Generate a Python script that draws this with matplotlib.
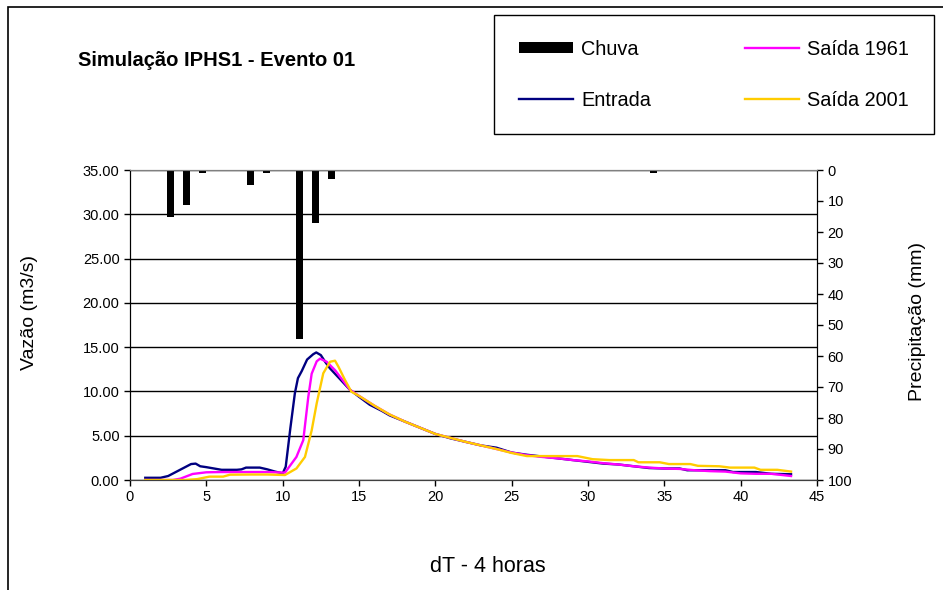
import matplotlib
matplotlib.use("Agg")
import matplotlib.pyplot as plt
from matplotlib.patches import Rectangle

plt.rcParams['font.family'] = ['Liberation Sans', 'DejaVu Sans']

# chuva (mm) por intervalo
chuva_x = [2.65, 3.7, 4.75, 7.9, 8.95, 11.1, 12.15, 13.2, 34.3]
chuva_mm = [15.3, 11.3, 1.0, 4.8, 1.0, 54.5, 17.2, 2.9, 1.0]

# hidrograma de entrada
ent_x = [1, 2, 2.5, 3, 3.5, 4, 4.3, 4.6, 5, 5.5, 6, 7, 7.3, 7.6, 8.5, 9, 9.5, 10,
         10.2, 10.5, 10.8, 11.0, 11.25, 11.6, 12.0, 12.2, 12.5, 12.8, 13.1, 14.4,
         15.0, 15.7, 16.5, 17, 18, 19, 20, 21, 22, 23, 24, 25, 26, 27, 28, 29, 30,
         31, 32, 33, 34, 35, 36, 36.5, 38, 39, 39.5, 41, 42, 43.3]
ent_q = [0.25, 0.25, 0.45, 0.9, 1.35, 1.8, 1.85, 1.55, 1.45, 1.3, 1.15, 1.15, 1.2,
         1.4, 1.4, 1.2, 0.95, 0.75, 1.5, 5.8, 9.8, 11.5, 12.3, 13.6, 14.2, 14.4,
         14.1, 13.3, 12.6, 10.2, 9.4, 8.5, 7.8, 7.3, 6.6, 5.9, 5.2, 4.7, 4.3, 3.9,
         3.65, 3.1, 2.85, 2.65, 2.45, 2.25, 2.05, 1.85, 1.75, 1.55, 1.35, 1.3, 1.3,
         1.1, 1.1, 1.1, 0.9, 0.9, 0.7, 0.65]

# saida 1961
s61_x = [1, 2.8, 3.3, 4.1, 5.0, 6, 7, 8, 9, 10.15, 10.9, 11.35, 11.68, 11.9, 12.23,
         12.45, 12.88, 13.43, 14.4, 15, 16, 17, 18, 19, 20, 21, 22, 23, 24, 25, 26,
         27, 28, 29, 30, 31, 32, 33, 34, 35, 36, 37, 38, 39, 40, 41, 42, 43.3]
s61_q = [0.0, 0.0, 0.15, 0.68, 0.87, 0.9, 0.9, 0.9, 0.9, 0.83, 2.6, 4.5, 9.4, 12.0,
         13.4, 13.7, 13.35, 12.4, 10.2, 9.5, 8.4, 7.4, 6.6, 5.9, 5.2, 4.75, 4.3, 3.9,
         3.5, 3.1, 2.8, 2.6, 2.45, 2.25, 2.1, 1.9, 1.75, 1.55, 1.4, 1.3, 1.25, 1.1,
         1.0, 0.95, 0.75, 0.7, 0.7, 0.45]

# saida 2001
s01_x = [1, 3.6, 4.4, 5.2, 6.1, 6.55, 8, 9, 10.15, 10.9, 11.46, 11.9, 12.23, 12.66,
         13.1, 13.43, 13.65, 14.08, 14.5, 15, 16, 17, 18, 19, 20, 21, 22, 23, 24, 25,
         26, 29.3, 30.3, 31.4, 33, 33.3, 34.7, 35.3, 36.7, 37.2, 38.6, 39.3, 40.9,
         41.3, 42.4, 43.3]
s01_q = [0.0, 0.0, 0.1, 0.38, 0.38, 0.6, 0.62, 0.62, 0.56, 1.3, 2.6, 5.6, 8.66, 12.05,
         13.35, 13.47, 12.8, 11.3, 9.97, 9.5, 8.4, 7.4, 6.6, 5.9, 5.2, 4.75, 4.3, 3.9,
         3.5, 3.05, 2.7, 2.7, 2.35, 2.25, 2.25, 2.0, 2.0, 1.8, 1.8, 1.6, 1.55, 1.4,
         1.4, 1.15, 1.15, 0.95]

W, H = 943, 590
fig = plt.figure(figsize=(W / 100, H / 100), dpi=100)
ax = fig.add_axes([130 / W, 1 - 480 / H, (817 - 130) / W, (480 - 170) / H])
ax2 = ax.twinx()

# moldura do grafico
fig.add_artist(Rectangle((8 / W, -0.2), 1.2, 1.2 - 7 / H, transform=fig.transFigure,
                         fill=False, edgecolor='black', linewidth=1.2))

l1, = ax.plot(ent_x, ent_q, color='#000080', lw=1.7, label='Entrada')
l2, = ax.plot(s61_x, s61_q, color='#FF00FF', lw=1.7, label='Saída 1961')
l3, = ax.plot(s01_x, s01_q, color='#FFCC00', lw=1.7, label='Saída 2001')
b = ax2.bar(chuva_x, chuva_mm, width=0.5, color='black', label='Chuva')

ax.set_xlim(0, 45)
ax.set_ylim(0, 35)
ax.set_xticks(range(0, 46, 5))
ax.set_yticks(range(0, 36, 5))
ax.set_yticklabels([f"{v:.2f}" for v in range(0, 36, 5)])
ax.yaxis.grid(True, color='black', lw=1.0)
ax.set_axisbelow(True)
ax2.set_ylim(100, 0)
ax2.set_yticks(range(0, 101, 10))

for a in (ax, ax2):
    a.tick_params(labelsize=10.5, direction='out', length=4, width=1)
    a.spines['top'].set_color('#808080')
    a.spines['bottom'].set_color('#404040')
    a.spines['left'].set_color('black')
    a.spines['right'].set_color('black')

fig.text(78 / W, 1 - 60 / H, 'Simulação IPHS1 - Evento 01', fontsize=14.5,
         fontweight='bold', ha='left', va='center')
fig.text(30 / W, 1 - 312 / H, 'Vazão (m3/s)', fontsize=14, rotation=90,
         ha='center', va='center')
fig.text(918 / W, 1 - 322 / H, 'Precipitação (mm)', fontsize=14, rotation=90,
         ha='center', va='center')
fig.text(488 / W, 1 - 567 / H, 'dT - 4 horas', fontsize=15.5, ha='center', va='center')

leg = fig.legend([b, l1, l2, l3], ['Chuva', 'Entrada', 'Saída 1961', 'Saída 2001'],
                 ncol=2, loc='upper left', bbox_to_anchor=(494 / W, 1 - 15 / H),
                 borderaxespad=0, fontsize=14.3, handlelength=2.75, handleheight=0.5,
                 handletextpad=0.4, columnspacing=4.7, labelspacing=1.6,
                 borderpad=1.25, fancybox=False, edgecolor='black', framealpha=1)
leg.get_frame().set_linewidth(1.0)

fig.savefig('out.png', dpi=100)
